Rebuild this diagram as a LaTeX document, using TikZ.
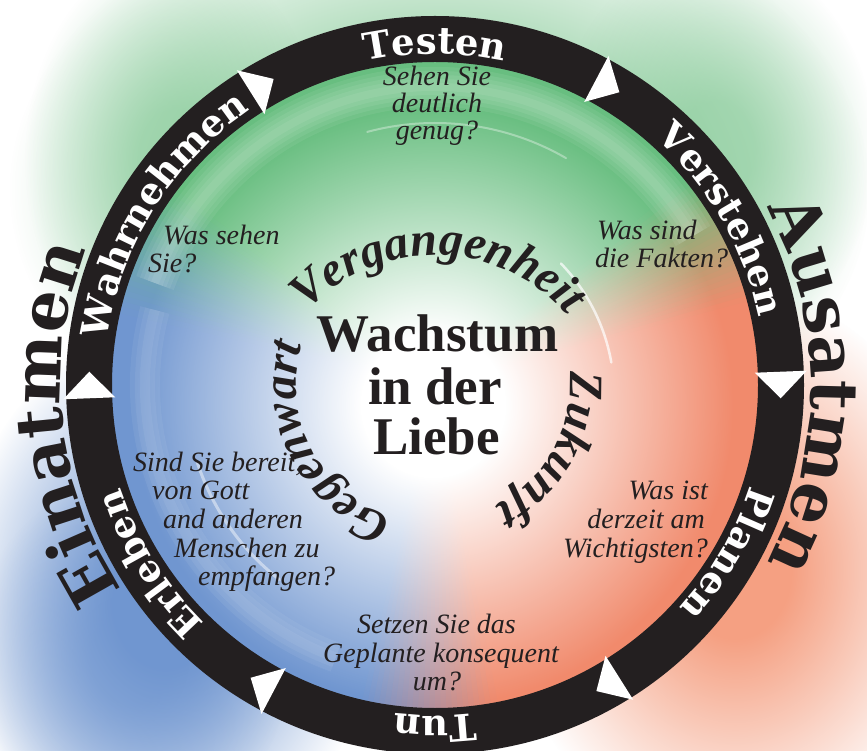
\documentclass[tikz,border=0pt]{standalone}
\usepackage{fontspec}
\usetikzlibrary{calc,decorations.text,fadings}
\newfontfamily\ringfont{DejaVu Serif}
\newfontfamily\bigfont{DejaVu Serif}
\newfontfamily\libfont{Liberation Serif}
\definecolor{ringc}{RGB}{35,31,32}
\definecolor{txtc}{RGB}{35,31,32}
\definecolor{gcol}{RGB}{104,190,128}
\definecolor{ocol}{RGB}{241,138,108}
\definecolor{bcol}{RGB}{112,150,208}
\definecolor{gblob}{RGB}{130,200,148}
\definecolor{oblob}{RGB}{245,160,130}
\definecolor{bblob}{RGB}{112,150,208}
\pgfdeclareradialshading{blobshade}{\pgfpointorigin}{color(0bp)=(white); color(6bp)=(white); color(25bp)=(black); color(50bp)=(black)}
\pgfdeclarefading{blobfade}{\pgfuseshading{blobshade}}
\pgfdeclareradialshading{centershade}{\pgfpointorigin}{color(0bp)=(white); color(6bp)=(white); color(25bp)=(black); color(50bp)=(black)}
\pgfdeclarefading{centerfade}{\pgfuseshading{centershade}}
\tikzset{
  ringlabel/.style={decorate, decoration={text along path, text align=center, text color=white,
    text={|\ringfont\bfseries\fontsize{37}{40}\selectfont|#1}}},
  biglabel/.style={decorate, decoration={text along path, text align=center, text color=txtc,
    text={|\bigfont\bfseries\fontsize{66}{70}\selectfont|#1}}},
  arclabel/.style={decorate, decoration={text along path, text align=center, text color=txtc,
    text={|\libfont\bfseries\itshape\fontsize{48}{50}\selectfont|#1}}},
  titletext/.style={font=\libfont\bfseries\fontsize{53}{56}\selectfont, text=txtc, inner sep=0pt, anchor=base},
  qtext/.style={font=\libfont\itshape\fontsize{28}{30}\selectfont, text=txtc, inner sep=0pt},
  arrowtri/.style={fill=white, draw=none},
  gloss/.style={draw=white, line cap=round},
}
\begin{document}
\begin{tikzpicture}[x=1pt,y=1pt]
\useasboundingbox (0,0) rectangle (867,750);
\clip (0,0) rectangle (867,750);
\fill[white] (0,0) rectangle (867,750);
\coordinate (C) at (435,365);
% soft colour clouds outside the ring
\fill[gblob, path fading=blobfade] (440,560) ellipse (430 and 300);
\fill[gblob, opacity=0.6, path fading=blobfade] (175,590) ellipse (150 and 210);
\fill[gblob, opacity=0.6, path fading=blobfade] (715,600) ellipse (160 and 200);
\fill[oblob, path fading=blobfade] (735,180) ellipse (230 and 280);
\fill[bblob, path fading=blobfade] (165,150) ellipse (210 and 270);
\fill[bblob, opacity=0.6, path fading=blobfade] (130,90) ellipse (160 and 180);
% inner disc
\begin{scope}[shift={(C)}]
  \fill[gcol] (0,0) -- (27:324) arc[start angle=27,end angle=155,radius=324] -- cycle;
  \fill[bcol] (0,0) -- (155:324) arc[start angle=155,end angle=269,radius=324] -- cycle;
  \fill[ocol] (0,0) -- (-91:324) arc[start angle=-91,end angle=27,radius=324] -- cycle;
  \foreach \bnd/\ca/\cb in {27/ocol/gcol, 155/gcol/bcol, 269/bcol/ocol} {
    \foreach \i in {0,...,23} {
      \pgfmathsetmacro\pp{(\i+0.5)*100/24}
      \pgfmathsetmacro\sa{\bnd-12+\i}
      \pgfmathsetmacro\ea{\sa+1.2}
      \fill[fill=\cb!\pp!\ca] (0,0) -- (\sa:324) arc[start angle=\sa,end angle=\ea,radius=324] -- cycle;
    }
  }
  % soft light band just inside the ring
  \foreach \w in {40,32,24,16,8} {
    \draw[white, opacity=0.07, line width=\w] (160:298) arc[start angle=160,end angle=30,radius=298];
  }
  \foreach \w in {30,20,10} {
    \draw[white, opacity=0.06, line width=\w] (165:290) arc[start angle=165,end angle=250,radius=290];
  }
\end{scope}
\fill[white, path fading=centerfade] (433,345) circle (300);
% gloss streaks
\begin{scope}[shift={(C)}]
  \draw[gloss, opacity=0.7, line width=2.5] (44:175) arc[start angle=44,end angle=10,radius=190];
  \draw[gloss, opacity=0.45, line width=3] (198:250) arc[start angle=198,end angle=232,radius=245];
  \draw[gloss, opacity=0.35, line width=2] (105:262) arc[start angle=105,end angle=60,radius=262];
\end{scope}
% ring
\fill[ringc, even odd rule] (C) circle (369) (C) circle (323);
% arrows on ring
\foreach \t in {180,120,60,0,-60,-120} {
  \fill[arrowtri, shift={(C)}] ({\t+2.2}:320) -- ({\t+2.2}:372) -- ({\t-2.2}:346) -- cycle;
}
% ring labels
\path[shift={(C)}, ringlabel=Testen] (135:331) arc[start angle=135,end angle=45,radius=331];
\path[shift={(C)}, ringlabel=Verstehen] (75:331) arc[start angle=75,end angle=-15,radius=331];
\path[shift={(C)}, ringlabel=Planen] (15:331) arc[start angle=15,end angle=-75,radius=331];
\path[shift={(C)}, ringlabel=Tun] (-45:331) arc[start angle=-45,end angle=-135,radius=331];
\path[shift={(C)}, ringlabel=Erleben] (257:331) arc[start angle=257,end angle=167,radius=331];
\path[shift={(C)}, ringlabel=Wahrnehmen] (193:331) arc[start angle=193,end angle=103,radius=331];
% outer labels
\path[shift={(C)}, biglabel=Einatmen] (236:374) arc[start angle=236,end angle=136,radius=374];
\path[shift={(C)}, biglabel=Ausatmen] (50:376) arc[start angle=50,end angle=-50,radius=376];
% inner arc labels
\path[shift={(435,320)}, arclabel=Vergangenheit] (149:175) arc[start angle=149,end angle=29,radius=175];
\path[shift={(C)}, arclabel=Zukunft] (31:135) arc[start angle=31,end angle=-89,radius=135];
\path[shift={(C)}, arclabel=Gegenwart] (267.5:139) arc[start angle=267.5,end angle=147.5,radius=139];
% title
\node[titletext] (t1) at (437.5,398) {Wachstum};
\node[titletext] (t2) at (435,345) {in der};
\node[titletext] (t3) at (436.5,295) {Liebe};
% questions
\node[qtext, anchor=base] (qa1) at (437,664) {Sehen Sie};
\node[qtext, anchor=base] (qa2) at (437,637) {deutlich};
\node[qtext, anchor=base] (qa3) at (437,610) {genug?};
\node[qtext, anchor=base west] (qb1) at (163,505) {Was sehen};
\node[qtext, anchor=base west] (qb2) at (148,477) {Sie?};
\node[qtext, anchor=base west] (qc1) at (597,510) {Was sind};
\node[qtext, anchor=base west] (qc2) at (595,482) {die Fakten?};
\node[qtext, anchor=base east] (qd1) at (708,250) {Was ist};
\node[qtext, anchor=base east] (qd2) at (705,222) {derzeit am};
\node[qtext, anchor=base east] (qd3) at (708,193) {Wichtigsten?};
\node[qtext, anchor=base west] (qe1) at (133,278) {Sind Sie bereit,};
\node[qtext, anchor=base west] (qe2) at (152,250) {von Gott};
\node[qtext, anchor=base west] (qe3) at (163,222) {and anderen};
\node[qtext, anchor=base west] (qe4) at (174,193) {Menschen zu};
\node[qtext, anchor=base west] (qe5) at (198,165) {empfangen?};
\node[qtext, anchor=base] (qf1) at (436.5,117) {Setzen Sie das};
\node[qtext, anchor=base] (qf2) at (441,88) {Geplante konsequent};
\node[qtext, anchor=base] (qf3) at (437,60) {um?};
\end{tikzpicture}
\end{document}
